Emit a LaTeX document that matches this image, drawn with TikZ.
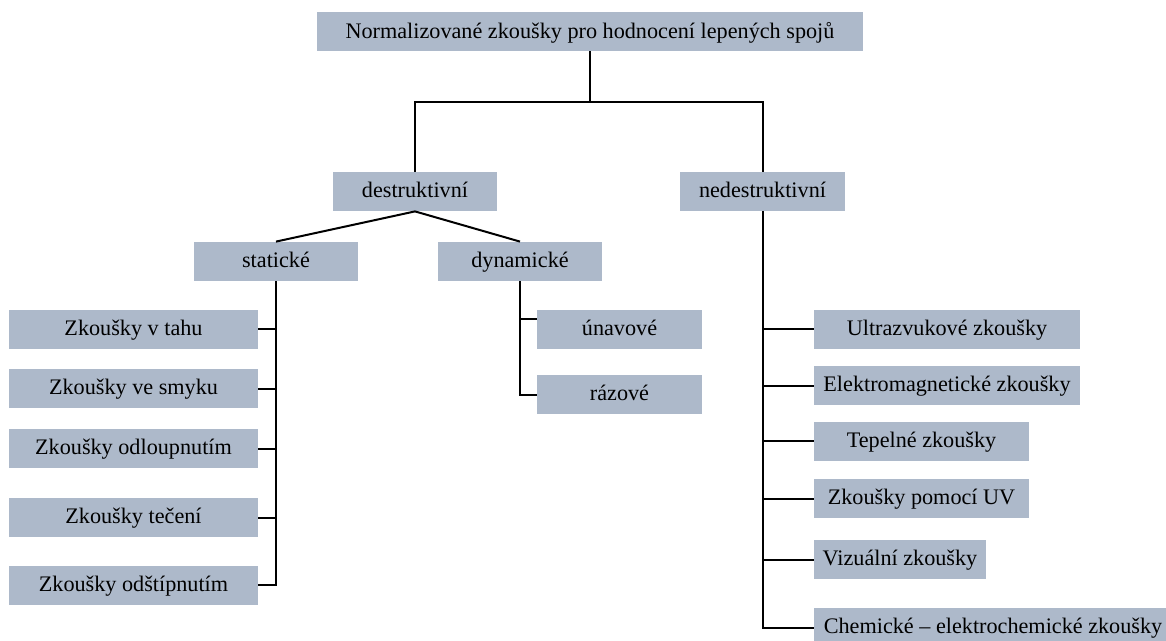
\documentclass[tikz,border=0pt]{standalone}
\usepackage{fontspec}
\setmainfont{Liberation Serif}
\usepackage{tikz}
\definecolor{boxgray}{HTML}{ADB9CA}
\tikzset{
	box/.style={fill=boxgray, inner sep=0pt, minimum height=19.5pt, text depth=0.3ex, font=\fontsize{11.1}{13}\selectfont},
	link/.style={line width=1pt}
}

\begin{document}
\begin{tikzpicture}[x=0.5pt, y=-0.5pt]
		%%%%% START %%%%%
		\clip (0, 0) rectangle (1166, 641);
		
		\node[box, minimum width=273pt] (top) at (590, 31.5) {Normalizované zkoušky pro hodnocení lepených spojů};
		
		\node[box, minimum width=82pt] (destr) at (415, 191.5) {destruktivní};
		\node[box, minimum width=82.5pt] (nedestr) at (762.5, 191.5) {nedestruktivní};
		
		\node[box, minimum width=82pt] (stat) at (276, 261.5) {statické};
		\node[box, minimum width=82pt] (dyn) at (520, 261.5) {dynamické};
		
		\node[box, minimum width=124.5pt] (tah) at (133.5, 329.5) {Zkoušky v tahu};
		\node[box, minimum width=124.5pt] (smyk) at (133.5, 388.5) {Zkoušky ve smyku};
		\node[box, minimum width=124.5pt] (odloup) at (133.5, 448.5) {Zkoušky odloupnutím};
		\node[box, minimum width=124.5pt] (teceni) at (133.5, 517.5) {Zkoušky tečení};
		\node[box, minimum width=124.5pt] (odstip) at (133.5, 585) {Zkoušky odštípnutím};
		
		\node[box, minimum width=82.5pt] (unav) at (619.5, 329.5) {únavové};
		\node[box, minimum width=82.5pt] (raz) at (619.5, 394.5) {rázové};
		
		\node[box, minimum width=133pt] (ultra) at (947, 329.5) {Ultrazvukové zkoušky};
		\node[box, minimum width=133pt] (elmag) at (947, 385.5) {Elektromagnetické zkoušky};
		\node[box, minimum width=107.5pt] (tepel) at (921.5, 441) {Tepelné zkoušky};
		\node[box, minimum width=107.5pt] (uv) at (921.5, 498.5) {Zkoušky pomocí UV};
		\node[box, minimum width=86pt] (viz) at (900, 559.5) {Vizuální zkoušky};
		\node[box, minimum width=179pt] (chem) at (993, 627.5) {Chemické -- elektrochemické zkoušky};
		
		\draw[link] (top.south) -- ++(0, 51) -| (destr.north);
		\draw[link] (top.south) -- ++(0, 51) -| (nedestr.north);
		
		\draw[link] (destr.south) -- (stat.north);
		\draw[link] (destr.south) -- (dyn.north);
		
		\foreach \n in {tah, smyk, odloup, teceni, odstip}
			\draw[link] (stat.south) |- (\n.east);
		
		\draw[link] (dyn.south) |- ([yshift=5pt]unav.west);
		\draw[link] (dyn.south) |- (raz.west);
		
		\foreach \n in {ultra, elmag, tepel, uv, viz, chem}
			\draw[link] (nedestr.south) |- (\n.west);
		%%%%% END %%%%%
	\end{tikzpicture}
\end{document}
